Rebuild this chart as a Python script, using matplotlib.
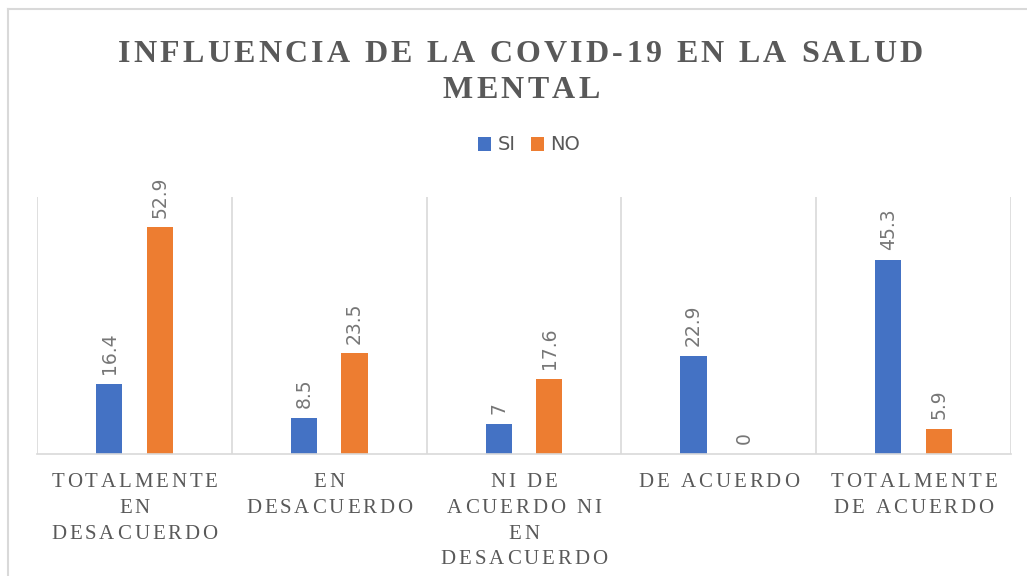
import numpy as np
import matplotlib
matplotlib.use("Agg")
import matplotlib.pyplot as plt
from matplotlib.font_manager import FontProperties, findfont
from matplotlib.ft2font import FT2Font
from matplotlib.lines import Line2D

# datos
categorias = [["TOTALMENTE", "EN", "DESACUERDO"],
              ["EN", "DESACUERDO"],
              ["NI DE", "ACUERDO NI", "EN", "DESACUERDO"],
              ["DE ACUERDO"],
              ["TOTALMENTE", "DE ACUERDO"]]
si = [16.4, 8.5, 7, 22.9, 45.3]
no = [52.9, 23.5, 17.6, 0, 5.9]
etiquetas_si = ["16.4", "8.5", "7", "22.9", "45.3"]
etiquetas_no = ["52.9", "23.5", "17.6", "0", "5.9"]

W, H = 1027, 576
gris = "#595959"
gris_num = "#767676"
linea = "#d9d9d9"
azul = "#4472C4"
naranja = "#ED7D31"

fig = plt.figure(figsize=(W/100, H/100), dpi=100)


def texto_espaciado(s, x_px, y_px, size, weight, spacing):
    # texto con espaciado entre letras, centrado en x_px, linea base en y_px
    prop = FontProperties(family="Liberation Serif", weight=weight, size=size)
    font = FT2Font(findfont(prop))
    font.set_size(size, fig.dpi)
    advs = [font.load_char(ord(c)).linearHoriAdvance/65536 for c in s]
    total = sum(advs) + spacing*(len(s)-1)
    x = x_px - total/2
    for c, a in zip(s, advs):
        if c != " ":
            fig.text((x + a/2)/W, 1 - y_px/H, c, ha="center", va="baseline",
                     fontproperties=prop, color=gris)
        x += a + spacing


ax = fig.add_axes([37/W, 1 - 454/H, (1011-37)/W, (454-197)/H])
x = np.arange(len(si))
d = 0.13
ancho = 0.135
b1 = ax.bar(x - d, si, ancho, color=azul, label="SI")
b2 = ax.bar(x + d, no, ancho, color=naranja, label="NO")

fuente_num = ["Liberation Sans Narrow", "DejaVu Sans"]
for barras, etiq in [(b1, etiquetas_si), (b2, etiquetas_no)]:
    for r, t in zip(barras, etiq):
        ax.annotate(t, (r.get_x() + r.get_width()/2, r.get_height()),
                    xytext=(0, 7), textcoords="offset points", rotation=90,
                    ha="center", va="bottom", fontsize=13.5, color=gris_num,
                    family=fuente_num)

ax.set_xlim(-0.5, 4.5)
ax.set_ylim(0, 60)
ax.set_xticks(np.arange(-0.5, 5, 1), minor=True)
ax.set_xticks([])
ax.set_yticks([])
ax.tick_params(which="both", length=0)
ax.grid(True, which="minor", axis="x", color=linea, linewidth=1.2)
ax.set_axisbelow(True)
for s in ["top", "left", "right"]:
    ax.spines[s].set_visible(False)
ax.spines["bottom"].set_color(linea)
ax.spines["bottom"].set_linewidth(1.2)

# etiquetas de categorias
for i, lineas in enumerate(categorias):
    cx = ax.transData.transform((i, 0))[0]
    for j, l in enumerate(lineas):
        texto_espaciado(l, cx, 487 + 25.8*j, 15, "normal", 2.9)

# titulo
texto_espaciado("INFLUENCIA DE LA COVID-19 EN LA SALUD", 520, 62, 23, "bold", 3.3)
texto_espaciado("MENTAL", 521, 98, 23, "bold", 3.3)

fig.legend(handles=[b1, b2], labels=["SI", "NO"], ncol=2, loc="center",
           bbox_to_anchor=(529/W, 1 - 145/H), frameon=False,
           prop=FontProperties(family=fuente_num, size=14),
           handlelength=0.7, handleheight=0.7, handletextpad=0.3,
           columnspacing=0.8, labelcolor=gris)

# borde del grafico
fig.add_artist(Line2D([8/W, 1], [1 - 9/H, 1 - 9/H], transform=fig.transFigure,
                      color=linea, linewidth=1.5))
fig.add_artist(Line2D([8/W, 8/W], [0, 1 - 9/H], transform=fig.transFigure,
                      color=linea, linewidth=1.5))

fig.savefig("out.png", dpi=100)
